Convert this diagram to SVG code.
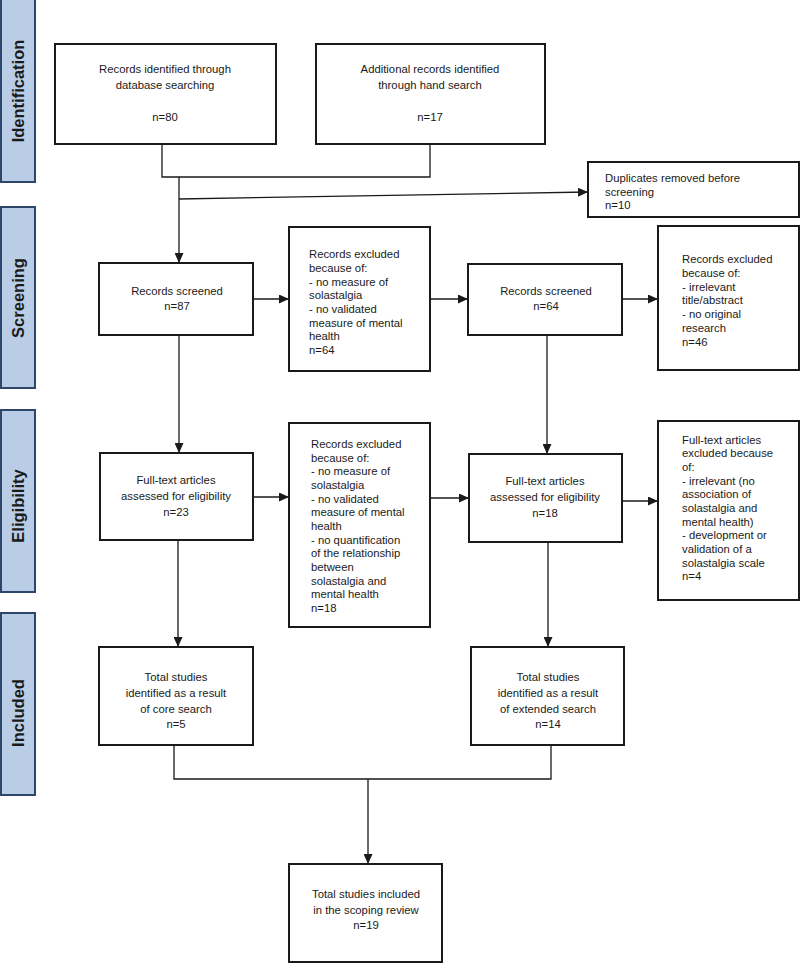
<svg xmlns="http://www.w3.org/2000/svg" width="800" height="964" viewBox="0 0 800 964">
<style>
.box{fill:#fff;stroke:#1a1a1a;stroke-width:2}
.bar{fill:#b9cde6;stroke:#2d476b;stroke-width:2}
.t{font-family:"Liberation Sans",Arial,sans-serif;font-size:11.3px;fill:#1a1a1a}
.c{text-anchor:middle}
.lbl{font-family:"Liberation Sans",Arial,sans-serif;font-size:16.5px;font-weight:bold;fill:#1a1a1a;text-anchor:middle}
.ln{fill:none;stroke:#1a1a1a;stroke-width:1.3}
</style>
<defs>
<marker id="ah" markerUnits="userSpaceOnUse" markerWidth="11" markerHeight="9" refX="10" refY="4.5" orient="auto">
<path d="M0,0 L10,4.5 L0,9 z" fill="#1a1a1a"/>
</marker>
</defs>
<rect width="800" height="964" fill="#fff"/>

<g id="phases">
<g id="phase-identification"><rect class="bar" x="1" y="-2" width="34" height="184"/><text class="lbl" transform="translate(24,91) rotate(-90)">Identification</text></g>
<g id="phase-screening"><rect class="bar" x="1" y="207" width="34" height="181"/><text class="lbl" transform="translate(24,298) rotate(-90)">Screening</text></g>
<g id="phase-eligibility"><rect class="bar" x="1" y="410" width="34" height="182"/><text class="lbl" transform="translate(24,506) rotate(-90)">Eligibility</text></g>
<g id="phase-included"><rect class="bar" x="1" y="613" width="34" height="182"/><text class="lbl" transform="translate(24,713) rotate(-90)">Included</text></g>
</g>

<g id="connectors">
<polyline class="ln" points="162,144 162,177 430,177 430,144"/>
<line class="ln" x1="179" y1="177" x2="179" y2="263" marker-end="url(#ah)"/>
<line class="ln" x1="179" y1="199" x2="588" y2="192" marker-end="url(#ah)"/>
<line class="ln" x1="253" y1="299" x2="289" y2="299" marker-end="url(#ah)"/>
<line class="ln" x1="430" y1="299" x2="468" y2="299" marker-end="url(#ah)"/>
<line class="ln" x1="622" y1="299" x2="658" y2="299" marker-end="url(#ah)"/>
<line class="ln" x1="179" y1="335" x2="179" y2="453" marker-end="url(#ah)"/>
<line class="ln" x1="547" y1="335" x2="547" y2="454" marker-end="url(#ah)"/>
<line class="ln" x1="253" y1="497" x2="289" y2="497" marker-end="url(#ah)"/>
<line class="ln" x1="430" y1="498" x2="469" y2="498" marker-end="url(#ah)"/>
<line class="ln" x1="622" y1="501" x2="658" y2="501" marker-end="url(#ah)"/>
<line class="ln" x1="178" y1="540" x2="178" y2="647" marker-end="url(#ah)"/>
<line class="ln" x1="548" y1="542" x2="548" y2="647" marker-end="url(#ah)"/>
<polyline class="ln" points="174,745 174,779 551,779 551,745"/>
<line class="ln" x1="368" y1="779" x2="368" y2="864" marker-end="url(#ah)"/>
</g>

<g id="n-db">
<rect class="box" x="55" y="44" width="221" height="100"/>
<text class="t c" x="165" y="73">Records identified through</text>
<text class="t c" x="165" y="89">database searching</text>
<text class="t c" x="165" y="121">n=80</text>
</g>
<g id="n-hand">
<rect class="box" x="316" y="44" width="229" height="100"/>
<text class="t c" x="430" y="73">Additional records identified</text>
<text class="t c" x="430" y="89">through hand search</text>
<text class="t c" x="430" y="121">n=17</text>
</g>
<g id="n-dup">
<rect class="box" x="588" y="162" width="211" height="55"/>
<text class="t" x="605" y="182">Duplicates removed before</text>
<text class="t" x="605" y="196">screening</text>
<text class="t" x="605" y="209">n=10</text>
</g>
<g id="n-screen1">
<rect class="box" x="99" y="263" width="154" height="72"/>
<text class="t c" x="177" y="295">Records screened</text>
<text class="t c" x="177" y="310">n=87</text>
</g>
<g id="n-excl1">
<rect class="box" x="289" y="227" width="141" height="144"/>
<text class="t" x="309" y="258">Records excluded</text>
<text class="t" x="309" y="272">because of:</text>
<text class="t" x="309" y="286">- no measure of</text>
<text class="t" x="309" y="299">solastalgia</text>
<text class="t" x="309" y="313">- no validated</text>
<text class="t" x="309" y="327">measure of mental</text>
<text class="t" x="309" y="340">health</text>
<text class="t" x="309" y="354">n=64</text>
</g>
<g id="n-screen2">
<rect class="box" x="468" y="264" width="154" height="71"/>
<text class="t c" x="546" y="295">Records screened</text>
<text class="t c" x="546" y="310">n=64</text>
</g>
<g id="n-excl2">
<rect class="box" x="658" y="226" width="141" height="144"/>
<text class="t" x="682" y="263">Records excluded</text>
<text class="t" x="682" y="277">because of:</text>
<text class="t" x="682" y="291">- irrelevant</text>
<text class="t" x="682" y="304">title/abstract</text>
<text class="t" x="682" y="318">- no original</text>
<text class="t" x="682" y="332">research</text>
<text class="t" x="682" y="346">n=46</text>
</g>
<g id="n-ft1">
<rect class="box" x="100" y="453" width="153" height="87"/>
<text class="t c" x="176" y="484">Full-text articles</text>
<text class="t c" x="176" y="500">assessed for eligibility</text>
<text class="t c" x="176" y="516">n=23</text>
</g>
<g id="n-excl3">
<rect class="box" x="289" y="423" width="141" height="204"/>
<text class="t" x="311" y="448">Records excluded</text>
<text class="t" x="311" y="462">because of:</text>
<text class="t" x="311" y="475">- no measure of</text>
<text class="t" x="311" y="489">solastalgia</text>
<text class="t" x="311" y="503">- no validated</text>
<text class="t" x="311" y="516">measure of mental</text>
<text class="t" x="311" y="530">health</text>
<text class="t" x="311" y="544">- no quantification</text>
<text class="t" x="311" y="557">of the relationship</text>
<text class="t" x="311" y="571">between</text>
<text class="t" x="311" y="585">solastalgia and</text>
<text class="t" x="311" y="598">mental health</text>
<text class="t" x="311" y="612">n=18</text>
</g>
<g id="n-ft2">
<rect class="box" x="469" y="454" width="153" height="88"/>
<text class="t c" x="545" y="485">Full-text articles</text>
<text class="t c" x="545" y="501">assessed for eligibility</text>
<text class="t c" x="545" y="517">n=18</text>
</g>
<g id="n-excl4">
<rect class="box" x="658" y="421" width="141" height="179"/>
<text class="t" x="682" y="444">Full-text articles</text>
<text class="t" x="682" y="457">excluded because</text>
<text class="t" x="682" y="471">of:</text>
<text class="t" x="682" y="485">- irrelevant (no</text>
<text class="t" x="682" y="498">association of</text>
<text class="t" x="682" y="512">solastalgia and</text>
<text class="t" x="682" y="526">mental health)</text>
<text class="t" x="682" y="539">- development or</text>
<text class="t" x="682" y="553">validation of a</text>
<text class="t" x="682" y="567">solastalgia scale</text>
<text class="t" x="682" y="580">n=4</text>
</g>
<g id="n-core">
<rect class="box" x="99" y="647" width="154" height="98"/>
<text class="t c" x="176" y="681">Total studies</text>
<text class="t c" x="176" y="697">identified as a result</text>
<text class="t c" x="176" y="713">of core search</text>
<text class="t c" x="176" y="728">n=5</text>
</g>
<g id="n-ext">
<rect class="box" x="471" y="647" width="153" height="98"/>
<text class="t c" x="548" y="681">Total studies</text>
<text class="t c" x="548" y="697">identified as a result</text>
<text class="t c" x="548" y="713">of extended search</text>
<text class="t c" x="548" y="728">n=14</text>
</g>
<g id="n-total">
<rect class="box" x="289" y="864" width="153" height="98"/>
<text class="t c" x="366" y="898">Total studies included</text>
<text class="t c" x="366" y="914">in the scoping review</text>
<text class="t c" x="366" y="929">n=19</text>
</g>
</svg>
